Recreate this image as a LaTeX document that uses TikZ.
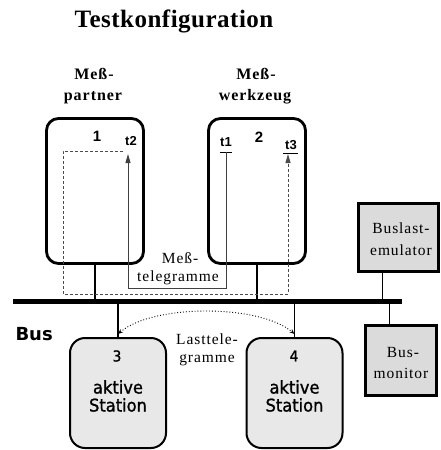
\documentclass[tikz,border=0pt]{standalone}
\usepackage{fontspec}
\setmainfont{Liberation Serif}
\newfontfamily\stationfont[FakeStretch=0.93,FakeBold=1.2]{DejaVu Sans}
\newfontfamily\busfont{DejaVu Sans}
\newfontfamily\numfont{Liberation Sans}
\usetikzlibrary{arrows.meta}

\definecolor{stationgray}{gray}{0.91}
\definecolor{toolgray}{gray}{0.86}

\tikzset{
  serifbold/.style={font=\bfseries\fontsize{16}{16}\selectfont\addfontfeature{LetterSpace=6}},
  seriflabel/.style={font=\fontsize{15.5}{15.5}\selectfont\addfontfeature{LetterSpace=6}},
  devbox/.style={draw, line width=2.8pt, rounded corners=12pt, fill=white,
    minimum width=97pt, minimum height=145pt, inner sep=0pt},
  stationbox/.style={draw, line width=2pt, rounded corners=15pt, fill=stationgray,
    minimum width=96pt, minimum height=110pt, inner sep=0pt},
  toolbox/.style={draw, line width=2.6pt, fill=toolgray, inner sep=0pt},
  numlabel/.style={font=\numfont\bfseries\fontsize{15}{15}\selectfont},
  stationnum/.style={font=\stationfont\fontsize{15}{15}\selectfont},
  tlabel/.style={font=\numfont\bfseries\fontsize{13}{13}\selectfont},
  stationtext/.style={font=\stationfont\fontsize{17.5}{17.5}\selectfont},
  busline/.style={line width=5pt},
  drop/.style={line width=1.8pt},
  thindrop/.style={line width=1pt},
  measpath/.style={line width=1pt, draw=black!75,
    -{Triangle[length=9pt,width=5pt]}},
  looppath/.style={line width=1pt, draw=black!70, dash pattern=on 3pt off 2pt,
    -{Triangle[length=9pt,width=5pt]}},
  loadpath/.style={line width=0.9pt, dotted,
    {Stealth[length=5pt,width=4pt]}-{Stealth[length=5pt,width=4pt]}},
}

\begin{document}
\begin{tikzpicture}[x=1pt,y=-1pt]
\useasboundingbox (0,0) rectangle (441,450);

% title
\node[anchor=base, font=\bfseries\fontsize{25}{25}\selectfont\addfontfeature{LetterSpace=2}]
  (title) at (174,27) {Testkonfiguration};

% device labels
\node[anchor=base, serifbold] (mp1) at (94,79) {Meß-};
\node[anchor=base, serifbold] (mp2) at (93,100) {partner};
\node[anchor=base, serifbold] (mw1) at (256,79) {Meß-};
\node[anchor=base, serifbold] (mw2) at (255,100) {werkzeug};

% devices on the bus
\node[devbox] (p1) at (95,191) {};
\node[devbox] (p2) at (257,191) {};
\node[numlabel] (n1) at (97,136) {1};
\node[numlabel] (n2) at (259,137) {2};
\node[tlabel] (lt2) at (131,141) {t2};
\node[tlabel] (lt1) at (226,142) {t1};
\node[tlabel] (lt3) at (291,145) {t3};

% time stamp points
\coordinate (t1a) at (220,152);
\coordinate (t1b) at (232,152);
\coordinate (t1) at (226,152);
\coordinate (t2) at (128,154);
\coordinate (t3a) at (283,153);
\coordinate (t3b) at (298,153);
\coordinate (t3) at (288,154);
\coordinate (dstart) at (123,151);

% bus
\coordinate (busL) at (13,301);
\coordinate (busR) at (402,301);
\node[anchor=west, font=\busfont\bfseries\fontsize{18}{18}\selectfont] (buslabel) at (12,334) {Bus};

% active stations
\node[stationbox] (s3) at (118,393) {};
\node[stationbox] (s4) at (294.5,393) {};
\node[stationnum] (n3) at (117,356) {3};
\node[stationnum] (n4) at (294,356) {4};
\node[stationtext] (a3) at (118,387) {aktive};
\node[stationtext] (st3) at (118,405) {Station};
\node[stationtext] (a4) at (294.5,387) {aktive};
\node[stationtext] (st4) at (294.5,405) {Station};

% bus load emulator and bus monitor
\node[toolbox, minimum width=80pt, minimum height=68pt] (emu) at (398.5,237.5) {};
\node[anchor=base, seriflabel] (emu1) at (401,233) {Buslast-};
\node[anchor=base, seriflabel] (emu2) at (401,255) {emulator};
\node[toolbox, minimum width=71pt, minimum height=70pt] (mon) at (401,360.5) {};
\node[anchor=base, seriflabel] (mon1) at (403,357) {Bus-};
\node[anchor=base, seriflabel] (mon2) at (401,378) {monitor};

% stubs to the bus
\draw[drop] (p1.south) -- (p1.south |- busL);
\draw[drop] (p2.south) -- (p2.south |- busL);
\draw[drop] (s3.north) -- (s3.north |- busL);
\draw[drop] (s4.north) -- (s4.north |- busL);
\draw[thindrop] ([xshift=-16.5pt]emu.south) -- ([xshift=-16.5pt]emu.south |- busL);
\draw[thindrop] ([xshift=-12pt]mon.north) -- ([xshift=-12pt]mon.north |- busL);
\draw[busline] (busL) -- (busR);

% measurement telegrams
\draw[line width=1pt] (t1a) -- (t1b);
\draw[line width=1pt] (t3a) -- (t3b);
\draw[measpath] (t1) -- (t1 |- 0,288) -- (t2 |- 0,288) -- (t2);
\draw[looppath] (dstart) -- (63,151) -- (63,294) -- (t3 |- 0,294) -- (t3);
\node[anchor=base, seriflabel] (mt1) at (180,263) {Meß-};
\node[anchor=base, seriflabel] (mt2) at (178,281) {telegramme};

% load telegrams
\draw[loadpath] ([yshift=3pt]s3.north) .. controls ([shift={(35,-33)}]s3.north) and ([shift={(-35,-33)}]s4.north) .. ([yshift=3pt]s4.north);
\node[anchor=base, seriflabel] (lt1l) at (207,344) {Lasttele-};
\node[anchor=base, seriflabel] (lt2l) at (207,362) {gramme};
\end{tikzpicture}
\end{document}
